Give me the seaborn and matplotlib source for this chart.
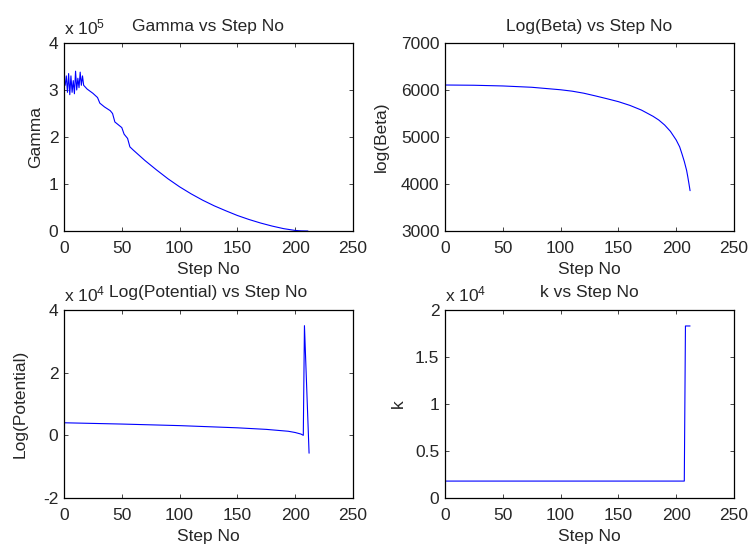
import numpy as np
import pandas as pd
import matplotlib
matplotlib.use('Agg')
import matplotlib.pyplot as plt
import seaborn as sns
from matplotlib.ticker import FuncFormatter

# ---------------- data ----------------
gamma_step = [1, 2, 3, 4, 5, 6, 7, 8, 9, 10, 11, 12, 13, 14, 15, 16,
              17, 20, 25, 29, 31, 35, 40, 42, 44, 50, 52, 55, 57,
              60, 70, 80, 90, 100, 110, 120, 130, 140, 150, 160, 170,
              180, 190, 200, 205, 211]
gamma_val = [3.10e5, 3.30e5, 2.95e5, 3.35e5, 2.90e5, 3.30e5, 2.95e5, 3.20e5,
             2.92e5, 3.40e5, 3.00e5, 3.25e5, 3.05e5, 3.38e5, 3.10e5, 3.30e5,
             3.10e5, 3.02e5, 2.93e5, 2.84e5, 2.72e5, 2.64e5, 2.56e5, 2.50e5,
             2.32e5, 2.20e5, 2.06e5, 1.97e5, 1.79e5,
             1.72e5, 1.50e5, 1.30e5, 1.11e5, 0.94e5, 0.79e5, 0.655e5, 0.535e5,
             0.43e5, 0.33e5, 0.245e5, 0.17e5, 0.105e5, 0.05e5, 0.012e5, 0.003e5, 0.0]

beta_step = [1, 25, 50, 75, 100, 110, 120, 130, 140, 150, 160, 170, 180,
             185, 190, 195, 200, 203, 205, 207, 209, 210, 211, 212]
beta_val = [6106, 6101, 6086, 6058, 6005, 5975, 5932, 5875, 5815, 5752,
            5672, 5572, 5440, 5360, 5255, 5120, 4936, 4790, 4640, 4480,
            4290, 4156, 4010, 3858]

pot_step = [1, 50, 100, 150, 175, 194, 200, 205, 207, 208, 212]
pot_val = [0.40e4, 0.36e4, 0.31e4, 0.24e4, 0.19e4, 0.13e4, 0.09e4, 0.04e4,
           0.0, 3.5e4, -0.57e4]

k_step = [1, 207, 208, 212]
k_val = [1800, 1800, 18300, 18300]

x_ticks = [0, 50, 100, 150, 200, 250]

# ---------------- style ----------------
sns.set_style('ticks')
plt.rcParams['font.family'] = ['Liberation Sans', 'DejaVu Sans']
plt.rcParams['mathtext.default'] = 'regular'
FS = 12.5
plt.rcParams['font.size'] = FS

fig = plt.figure(figsize=(7.52, 5.47), dpi=100)
W, H = 752, 547


def make_ax(l, t, r, b):
    return fig.add_axes([l / W, 1 - b / H, (r - l) / W, (b - t) / H])


panels = [
    dict(box=(64, 43, 353, 231), x=gamma_step, y=gamma_val, title='Gamma vs Step No',
         ylabel='Gamma', ylim=(0, 4e5), yticks=[0, 1e5, 2e5, 3e5, 4e5], scale=1e5, exp='5',
         ypad=3.7),
    dict(box=(445, 43, 734, 231), x=beta_step, y=beta_val, title='Log(Beta) vs Step No',
         ylabel='log(Beta)', ylim=(3000, 7000), yticks=[3000, 4000, 5000, 6000, 7000],
         scale=None, exp=None, ypad=8.8),
    dict(box=(64, 310, 353, 498), x=pot_step, y=pot_val, title='Log(Potential) vs Step No',
         ylabel='Log(Potential)', ylim=(-2e4, 4e4), yticks=[-2e4, 0, 2e4, 4e4], scale=1e4, exp='4',
         ypad=10.9),
    dict(box=(445, 310, 734, 498), x=k_step, y=k_val, title='k vs Step No',
         ylabel='k', ylim=(0, 2e4), yticks=[0, 0.5e4, 1e4, 1.5e4, 2e4], scale=1e4, exp='4',
         ypad=6.6),
]

for p in panels:
    ax = make_ax(*p['box'])
    df = pd.DataFrame({'step': p['x'], 'val': p['y']})
    sns.lineplot(data=df, x='step', y='val', ax=ax, color='#0000ff', linewidth=0.8,
                 estimator=None, sort=False)
    ax.set_xlim(0, 250)
    ax.set_xticks(x_ticks)
    ax.set_ylim(*p['ylim'])
    ax.set_yticks(p['yticks'])
    if p['scale']:
        s = p['scale']
        ax.yaxis.set_major_formatter(FuncFormatter(lambda v, pos, s=s: f'{v / s:g}'))
        ax.text(0, 1.03, r'x 10$^{%s}$' % p['exp'], transform=ax.transAxes,
                ha='left', va='bottom', fontsize=FS)
    ax.tick_params(direction='in', top=True, right=True, length=3, width=0.6,
                   labelsize=FS)
    ax.tick_params(axis='x', pad=7)
    ax.tick_params(axis='y', pad=4)
    ax.set_xlabel('Step No', fontsize=FS, labelpad=4.6)
    ax.set_ylabel(p['ylabel'], fontsize=FS, labelpad=p['ypad'])
    ax.set_title(p['title'], fontsize=FS, pad=9)
    for sp in ax.spines.values():
        sp.set_visible(True)
        sp.set_color('black')
        sp.set_linewidth(0.9)

fig.savefig('out.png', dpi=100)
